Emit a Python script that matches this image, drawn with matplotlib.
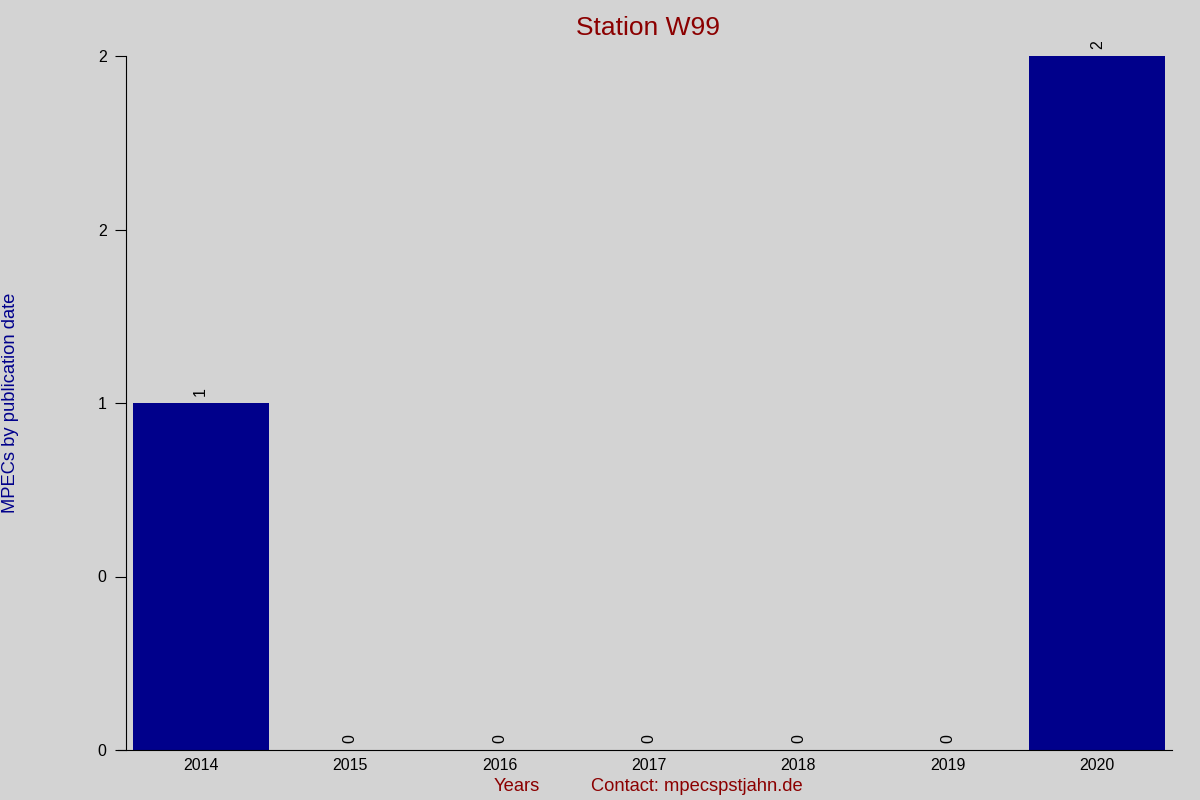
import matplotlib
matplotlib.use("Agg")
import matplotlib.pyplot as plt
from matplotlib.ticker import FormatStrFormatter

years = ["2014", "2015", "2016", "2017", "2018", "2019", "2020"]
counts = [1, 0, 0, 0, 0, 0, 2]

plt.rcParams['font.family'] = ['Liberation Sans', 'DejaVu Sans']
bg = "#d3d3d3"

fig = plt.figure(figsize=(12, 8), dpi=100, facecolor=bg)
ax = fig.add_axes([0.105, 0.0625, 0.8717, 0.8675], facecolor=bg)

x = list(range(len(years)))
bars = ax.bar(x, counts, width=0.91, color="#00008b")
for xi, c in zip(x, counts):
    ax.text(xi, c + 0.02, str(c), rotation=90, ha="center", va="bottom", fontsize=11.5)

ax.set_xlim(-0.5, len(years) - 0.5)
ax.set_ylim(0, 2)
ax.set_yticks([0, 0.5, 1, 1.5, 2])
ax.yaxis.set_major_formatter(FormatStrFormatter("%.0f"))
ax.set_xticks(x)
ax.set_xticklabels(years)
ax.tick_params(axis="x", length=0, labelsize=11.5, pad=6)
ax.tick_params(axis="y", length=8, labelsize=11.5, pad=6)

for s in ["top", "right"]:
    ax.spines[s].set_visible(False)
ax.spines["left"].set_color("black")
ax.spines["bottom"].set_bounds(-0.555, len(years) - 0.5)

fig.text(0.54, 0.9655, "Station W99", color="#8b0000", fontsize=19, ha="center", va="center")
fig.text(0.009, 0.496, "MPECs by publication date", color="#00008b", fontsize=13.2,
         rotation=90, ha="center", va="center")
fig.text(0.431, 0.017, "Years", color="#8b0000", fontsize=13.2, ha="center", va="center")
fig.text(0.581, 0.017, "Contact: mpecspstjahn.de", color="#8b0000", fontsize=13.2, ha="center", va="center")

fig.savefig("out.png", dpi=100, facecolor=bg)
